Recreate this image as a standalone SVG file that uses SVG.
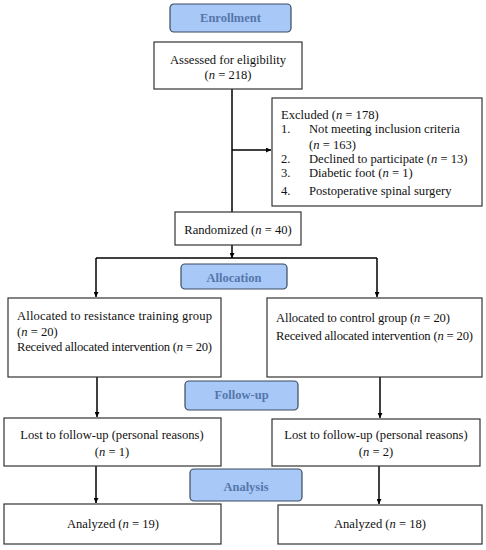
<svg xmlns="http://www.w3.org/2000/svg" width="486" height="550" viewBox="0 0 486 550">
<defs>
<marker id="ah" viewBox="0 0 10 10" refX="10" refY="5" markerWidth="5" markerHeight="5" orient="auto" markerUnits="userSpaceOnUse"><path d="M0,0 L10,5 L0,10 z" fill="#000"/></marker>
<style>
.box{fill:#fff;stroke:#333;stroke-width:1.2}
.lbl{fill:#a8c8f8;stroke:#3a4a60;stroke-width:1.2}
.lt{font-family:"Liberation Serif",serif;font-size:12.5px;font-weight:bold;fill:#5577aa;text-anchor:middle}
.t{font-family:"Liberation Serif",serif;font-size:12.6px;fill:#111}
.c{text-anchor:middle}
.ln{fill:none;stroke:#000;stroke-width:1.5}
.ar{fill:none;stroke:#000;stroke-width:1.5;marker-end:url(#ah)}
.i{font-style:italic}
</style>
</defs>
<rect width="486" height="550" fill="#fff"/>
<g id="connectors">
<path class="ln" d="M232,89 V212"/>
<path class="ar" d="M232,150 H271"/>
<path class="ar" d="M232,245 V258"/>
<path class="ln" d="M96,258 H377"/>
<path class="ar" d="M96,258 V297"/>
<path class="ar" d="M377,258 V297"/>
<path class="ar" d="M97,377 V417"/>
<path class="ar" d="M380,377 V418"/>
<path class="ar" d="M96,466 V503"/>
<path class="ar" d="M379,466 V504"/>
</g>
<g id="enrollment"><rect class="lbl" x="170" y="4" width="121" height="28" rx="4"/><text class="lt" x="230.5" y="22">Enrollment</text></g>
<g id="assessed"><rect class="box" x="154" y="42" width="148" height="47"/><text class="t c" x="228" y="64">Assessed for eligibility</text><text class="t c" x="228" y="79">(<tspan class="i">n</tspan> = 218)</text></g>
<g id="excluded"><rect class="box" x="272" y="98" width="210" height="108"/>
<text class="t" x="281" y="119">Excluded (<tspan class="i">n</tspan> = 178)</text>
<text class="t" x="281" y="133">1.</text><text class="t" x="309" y="133">Not meeting inclusion criteria</text>
<text class="t" x="309" y="149">(<tspan class="i">n</tspan> = 163)</text>
<text class="t" x="281" y="163">2.</text><text class="t" x="309" y="163">Declined to participate (<tspan class="i">n</tspan> = 13)</text>
<text class="t" x="281" y="177">3.</text><text class="t" x="309" y="177">Diabetic foot (<tspan class="i">n</tspan> = 1)</text>
<text class="t" x="281" y="195">4.</text><text class="t" x="309" y="195">Postoperative spinal surgery</text>
</g>
<g id="randomized"><rect class="box" x="175" y="212" width="126" height="33"/><text class="t c" x="238" y="234">Randomized (<tspan class="i">n</tspan> = 40)</text></g>
<g id="allocation"><rect class="lbl" x="181" y="264" width="106" height="25" rx="4"/><text class="lt" x="234" y="282">Allocation</text></g>
<g id="alloc-left"><rect class="box" x="8" y="298" width="213" height="79"/>
<text class="t" x="17" y="320" textLength="195">Allocated to resistance training group</text>
<text class="t" x="17" y="336">(<tspan class="i">n</tspan> = 20)</text>
<text class="t" x="17" y="351" textLength="195">Received allocated intervention (<tspan class="i">n</tspan> = 20)</text></g>
<g id="alloc-right"><rect class="box" x="267" y="298" width="215" height="79"/>
<text class="t" x="276" y="322" textLength="174">Allocated to control group (<tspan class="i">n</tspan> = 20)</text>
<text class="t" x="276" y="340" textLength="197">Received allocated intervention (<tspan class="i">n</tspan> = 20)</text></g>
<g id="followup"><rect class="lbl" x="185" y="381" width="113" height="29" rx="4"/><text class="lt" x="241.5" y="399">Follow-up</text></g>
<g id="lost-left"><rect class="box" x="4" y="418" width="217" height="48"/>
<text class="t c" x="112" y="439">Lost to follow-up (personal reasons)</text>
<text class="t c" x="112" y="456">(<tspan class="i">n</tspan> = 1)</text></g>
<g id="lost-right"><rect class="box" x="272" y="419" width="208" height="47"/>
<text class="t c" x="376" y="439">Lost to follow-up (personal reasons)</text>
<text class="t c" x="376" y="456">(<tspan class="i">n</tspan> = 2)</text></g>
<g id="analysis"><rect class="lbl" x="190" y="469" width="112" height="32" rx="4"/><text class="lt" x="246" y="491">Analysis</text></g>
<g id="analyzed-left"><rect class="box" x="4" y="504" width="217" height="40"/><text class="t c" x="113" y="528">Analyzed (<tspan class="i">n</tspan> = 19)</text></g>
<g id="analyzed-right"><rect class="box" x="278" y="505" width="204" height="39"/><text class="t c" x="380" y="528">Analyzed (<tspan class="i">n</tspan> = 18)</text></g>
</svg>
